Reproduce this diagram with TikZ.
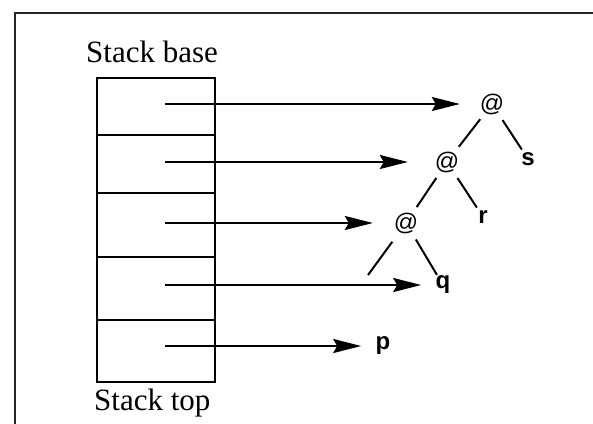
\documentclass[tikz,border=0pt]{standalone}
\usepackage{fontspec}
\setmainfont{Liberation Serif}
\newfontfamily\lblfont{Liberation Sans}
\usetikzlibrary{arrows.meta}
\tikzset{
  frameline/.style={line width=2.6pt, black!85},
  cell/.style={draw, line width=2.4pt, rectangle, inner sep=0pt, minimum width=118pt, anchor=north west},
  arr/.style={line width=2.2pt, -{Stealth[length=28pt,width=14pt,inset=4pt]}},
  apnode/.style={circle, inner sep=0pt, minimum size=38pt, font=\lblfont\fontsize{24}{30}\selectfont},
  leaf/.style={circle, inner sep=0pt, minimum size=22pt, font=\lblfont\bfseries\fontsize{24}{30}\selectfont},
  edge/.style={line width=2pt},
  caption/.style={font=\fontsize{31}{36}\selectfont, inner sep=0pt, anchor=base west}
}
\begin{document}
\begin{tikzpicture}[x=1pt,y=-1pt]
\useasboundingbox (0,0) rectangle (593,423);
\fill[white] (0,0) rectangle (593,423);
% frame
\draw[frameline] (15,430) -- (15,13) -- (600,13);
% labels
\node[caption] (basetxt) at (86,62) {Stack base};
\node[caption] (toptxt) at (94,410) {Stack top};
% stack cells
\node[cell, minimum height=57pt] (k1) at (96,77) {};
\node[cell, minimum height=58pt] (k2) at (96,134) {};
\node[cell, minimum height=64pt] (k3) at (96,192) {};
\node[cell, minimum height=63pt] (k4) at (96,256) {};
\node[cell, minimum height=62pt] (k5) at (96,319) {};
% arrow starts
\coordinate (c1) at (165,104);
\coordinate (c2) at (165,162);
\coordinate (c3) at (165,223);
\coordinate (c4) at (165,285);
\coordinate (c5) at (165,346);
% tree
\node[apnode] (a1) at (492,104) {@};
\node[apnode] (a2) at (447,162) {@};
\node[apnode] (a3) at (406,223) {@};
\node[leaf] (s) at (528,159) {s};
\node[leaf] (r) at (483,217) {r};
\node[leaf] (q) at (443,285) {q};
\node[leaf] (p) at (383,346) {p};
\coordinate (lft) at (368,275);
% tree edges
\draw[edge] (a1) -- (a2);
\draw[edge] (a1) -- (s);
\draw[edge] (a2) -- (a3);
\draw[edge] (a2) -- (r);
\draw[edge, shorten <=4pt] (a3) -- (lft);
\draw[edge] (a3) -- (q);
% arrows
\draw[arr, shorten >=13pt] (c1) -- (a1);
\draw[arr, shorten >=20pt] (c2) -- (a2);
\draw[arr, shorten >=14pt] (c3) -- (a3);
\draw[arr, shorten >=10pt] (c4) -- (q);
\draw[arr, shorten >=10pt] (c5) -- (p);
\end{tikzpicture}
\end{document}
